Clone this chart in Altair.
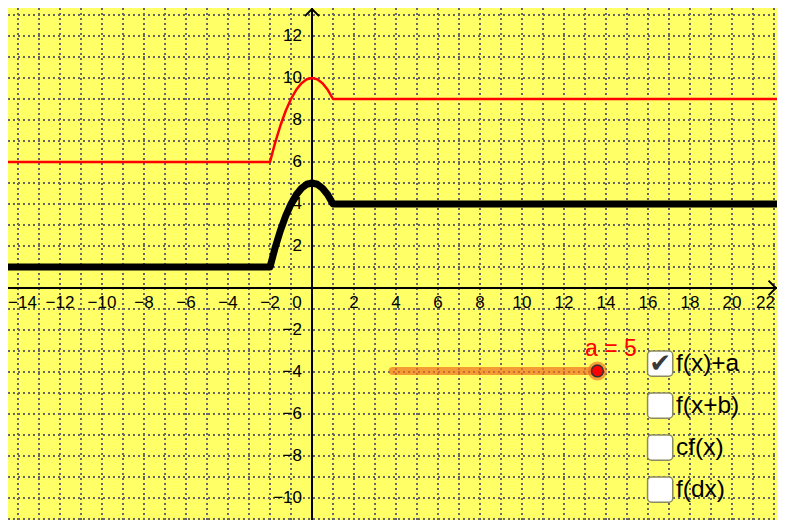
import altair as alt
import pandas as pd

# ---- data ----
curve_x = [-14.6, -2, -1.75, -1.5, -1.25, -1, -0.75, -0.5, -0.25, 0, 0.25, 0.5, 0.75, 1, 22.7]
f_y = [1, 1, 1.94, 2.75, 3.44, 4, 4.44, 4.75, 4.94, 5, 4.94, 4.75, 4.44, 4, 4]
fa_y = [6, 6, 6.94, 7.75, 8.44, 9, 9.44, 9.75, 9.94, 10, 9.94, 9.75, 9.44, 9, 9]

x_ticks = [-14, -12, -10, -8, -6, -4, -2, 2, 4, 6, 8, 10, 12, 14, 16, 18, 20, 22]
y_ticks = [-10, -8, -6, -4, -2, 2, 4, 6, 8, 10, 12]
grid_x = list(range(-14, 23))
grid_y = list(range(-11, 14))

slider_label = "a = 5"
slider_x = [3.84, 13.59]
slider_y = -3.95
checkbox_labels = ["f(x)+a", "f(x+b)", "cf(x)", "f(dx)"]
checkbox_checked = [True, False, False, False]
checkbox_y = [-3.6, -5.6, -7.6, -9.6]

# ---- view (page margin 8px; whole page must fit 785x528); 21 px per unit ----
W, H = 769, 512
UNIT = 21.0
OX, OY = 304, 280          # origin inside the plot area
X0, X1 = -OX / UNIT, (W - OX) / UNIT
Y0, Y1 = -(H - OY) / UNIT, OY / UNIT
BG = "#FFFF66"

xs = alt.Scale(domain=[X0, X1], nice=False, zero=False)
ys = alt.Scale(domain=[Y0, Y1], nice=False, zero=False)
grid_style = dict(grid=True, gridColor="#666666", gridDash=[2, 3], gridWidth=2, gridOpacity=1,
                  labels=False, ticks=False, domain=False, title=None, translate=0)
AX = alt.Axis(values=grid_x, orient="bottom", **grid_style)
AY = alt.Axis(values=grid_y, orient="left", **grid_style)


def X(field="x"):
    return alt.X(f"{field}:Q", scale=xs, axis=AX)


def Y(field="y"):
    return alt.Y(f"{field}:Q", scale=ys, axis=AY)


axis_df = pd.DataFrame({"x": [0], "y": [0]})
axis_v = alt.Chart(axis_df).mark_rule(color="black", strokeWidth=2).encode(x=X())
axis_h = alt.Chart(axis_df).mark_rule(color="black", strokeWidth=2).encode(y=Y())

arrow_x = alt.Chart(pd.DataFrame({"x": [X1 - 0.05], "y": [0]})).mark_point(
    shape="M-1,-1L0,0L-1,1", size=220, filled=False, color="black", strokeWidth=2, opacity=1
).encode(x=X(), y=Y())
arrow_y = alt.Chart(pd.DataFrame({"x": [0], "y": [Y1 - 0.05]})).mark_point(
    shape="M-1,1L0,0L1,1", size=200, filled=False, color="black", strokeWidth=2, opacity=1
).encode(x=X(), y=Y())

font = "Liberation Sans"
TF = 17


def lab(v):
    return str(v).replace("-", "\u2212")


mid_ticks = [v for v in x_ticks if v not in (-14, 22)]
xlab = alt.Chart(pd.DataFrame({"x": mid_ticks, "y": [0] * len(mid_ticks),
                               "t": [lab(v) for v in mid_ticks]})).mark_text(
    font=font, fontSize=TF, color="black", baseline="middle", align="center", dy=15
).encode(x=X(), y=Y(), text="t:N")
xlab_first = alt.Chart(pd.DataFrame({"x": [x_ticks[0]], "y": [0], "t": [lab(x_ticks[0])]})).mark_text(
    font=font, fontSize=TF, color="black", baseline="middle", align="left", dy=15, dx=-10
).encode(x=X(), y=Y(), text="t:N")
xlab_last = alt.Chart(pd.DataFrame({"x": [x_ticks[-1]], "y": [0], "t": [lab(x_ticks[-1])]})).mark_text(
    font=font, fontSize=TF, color="black", baseline="middle", align="right", dy=15, dx=1
).encode(x=X(), y=Y(), text="t:N")
zero_lab = alt.Chart(pd.DataFrame({"x": [0], "y": [0], "t": ["0"]})).mark_text(
    font=font, fontSize=TF, color="black", baseline="middle", align="center", dy=15, dx=-15
).encode(x=X(), y=Y(), text="t:N")
ylab = alt.Chart(pd.DataFrame({"x": [0] * len(y_ticks), "y": y_ticks,
                               "t": [lab(v) for v in y_ticks]})).mark_text(
    font=font, fontSize=TF, color="black", baseline="middle", align="right", dx=-10
).encode(x=X(), y=Y(), text="t:N")

curves = pd.DataFrame({"x": curve_x, "f": f_y, "fa": fa_y, "i": range(len(curve_x))})
red = alt.Chart(curves).mark_line(color="#FF0000", strokeWidth=2.5, strokeJoin="round", clip=True).encode(
    x=X(), y=Y("fa"), order="i:Q")
black = alt.Chart(curves).mark_line(color="black", strokeWidth=7, strokeJoin="round", clip=True).encode(
    x=X(), y=Y("f"), order="i:Q")

sl_df = pd.DataFrame({"x": slider_x, "y": [slider_y] * 2})
slider_line = alt.Chart(sl_df).mark_line(color="#F07020", strokeWidth=8, strokeCap="round", opacity=0.7).encode(
    x=X(), y=Y())
pt_df = pd.DataFrame({"x": [slider_x[1]], "y": [slider_y]})
halo = alt.Chart(pt_df).mark_circle(size=360, color="#F07020", opacity=0.65).encode(x=X(), y=Y())
point = alt.Chart(pt_df).mark_point(size=140, filled=True, fill="#FF0000", stroke="#333333",
                                    strokeWidth=1.5, opacity=1, fillOpacity=1).encode(x=X(), y=Y())
sl_text = alt.Chart(pd.DataFrame({"x": [13.0], "y": [-2.9], "t": [slider_label]})).mark_text(
    font=font, fontSize=23, color="#FF0000", align="left", baseline="middle"
).encode(x=X(), y=Y(), text="t:N")

cb = pd.DataFrame({
    "x": [15.98] * 4, "x2": [17.18] * 4,
    "y": [c + 0.6 for c in checkbox_y], "y2": [c - 0.6 for c in checkbox_y],
    "yc": checkbox_y, "xt": [17.33] * 4, "xc": [16.58] * 4,
    "label": checkbox_labels,
    "mark": ["\u2714" if c else "" for c in checkbox_checked],
})
boxes = alt.Chart(cb).mark_rect(fill="white", stroke="#8A8A60", strokeWidth=1.5, cornerRadius=4).encode(
    x=X(), x2="x2:Q", y=Y(), y2="y2:Q")
checks = alt.Chart(cb).mark_text(font="DejaVu Sans", fontSize=26, color="#3A3A3A",
                                 align="center", baseline="middle").encode(
    x=X("xc"), y=Y("yc"), text="mark:N")
cb_text = alt.Chart(cb).mark_text(font=font, fontSize=24.5, color="black",
                                  align="left", baseline="middle").encode(
    x=X("xt"), y=Y("yc"), text="label:N")

chart = alt.layer(
    xlab, xlab_first, xlab_last, zero_lab, ylab, axis_v, axis_h, arrow_x, arrow_y,
    red, black, slider_line, halo, point, sl_text, boxes, checks, cb_text
).properties(
    width=W, height=H, background=BG, padding=0,
    autosize=alt.AutoSizeParams(type="none")
).configure_view(stroke=None, fill=BG)

chart.save("out.html", embed_options={"renderer": "svg", "actions": False})
